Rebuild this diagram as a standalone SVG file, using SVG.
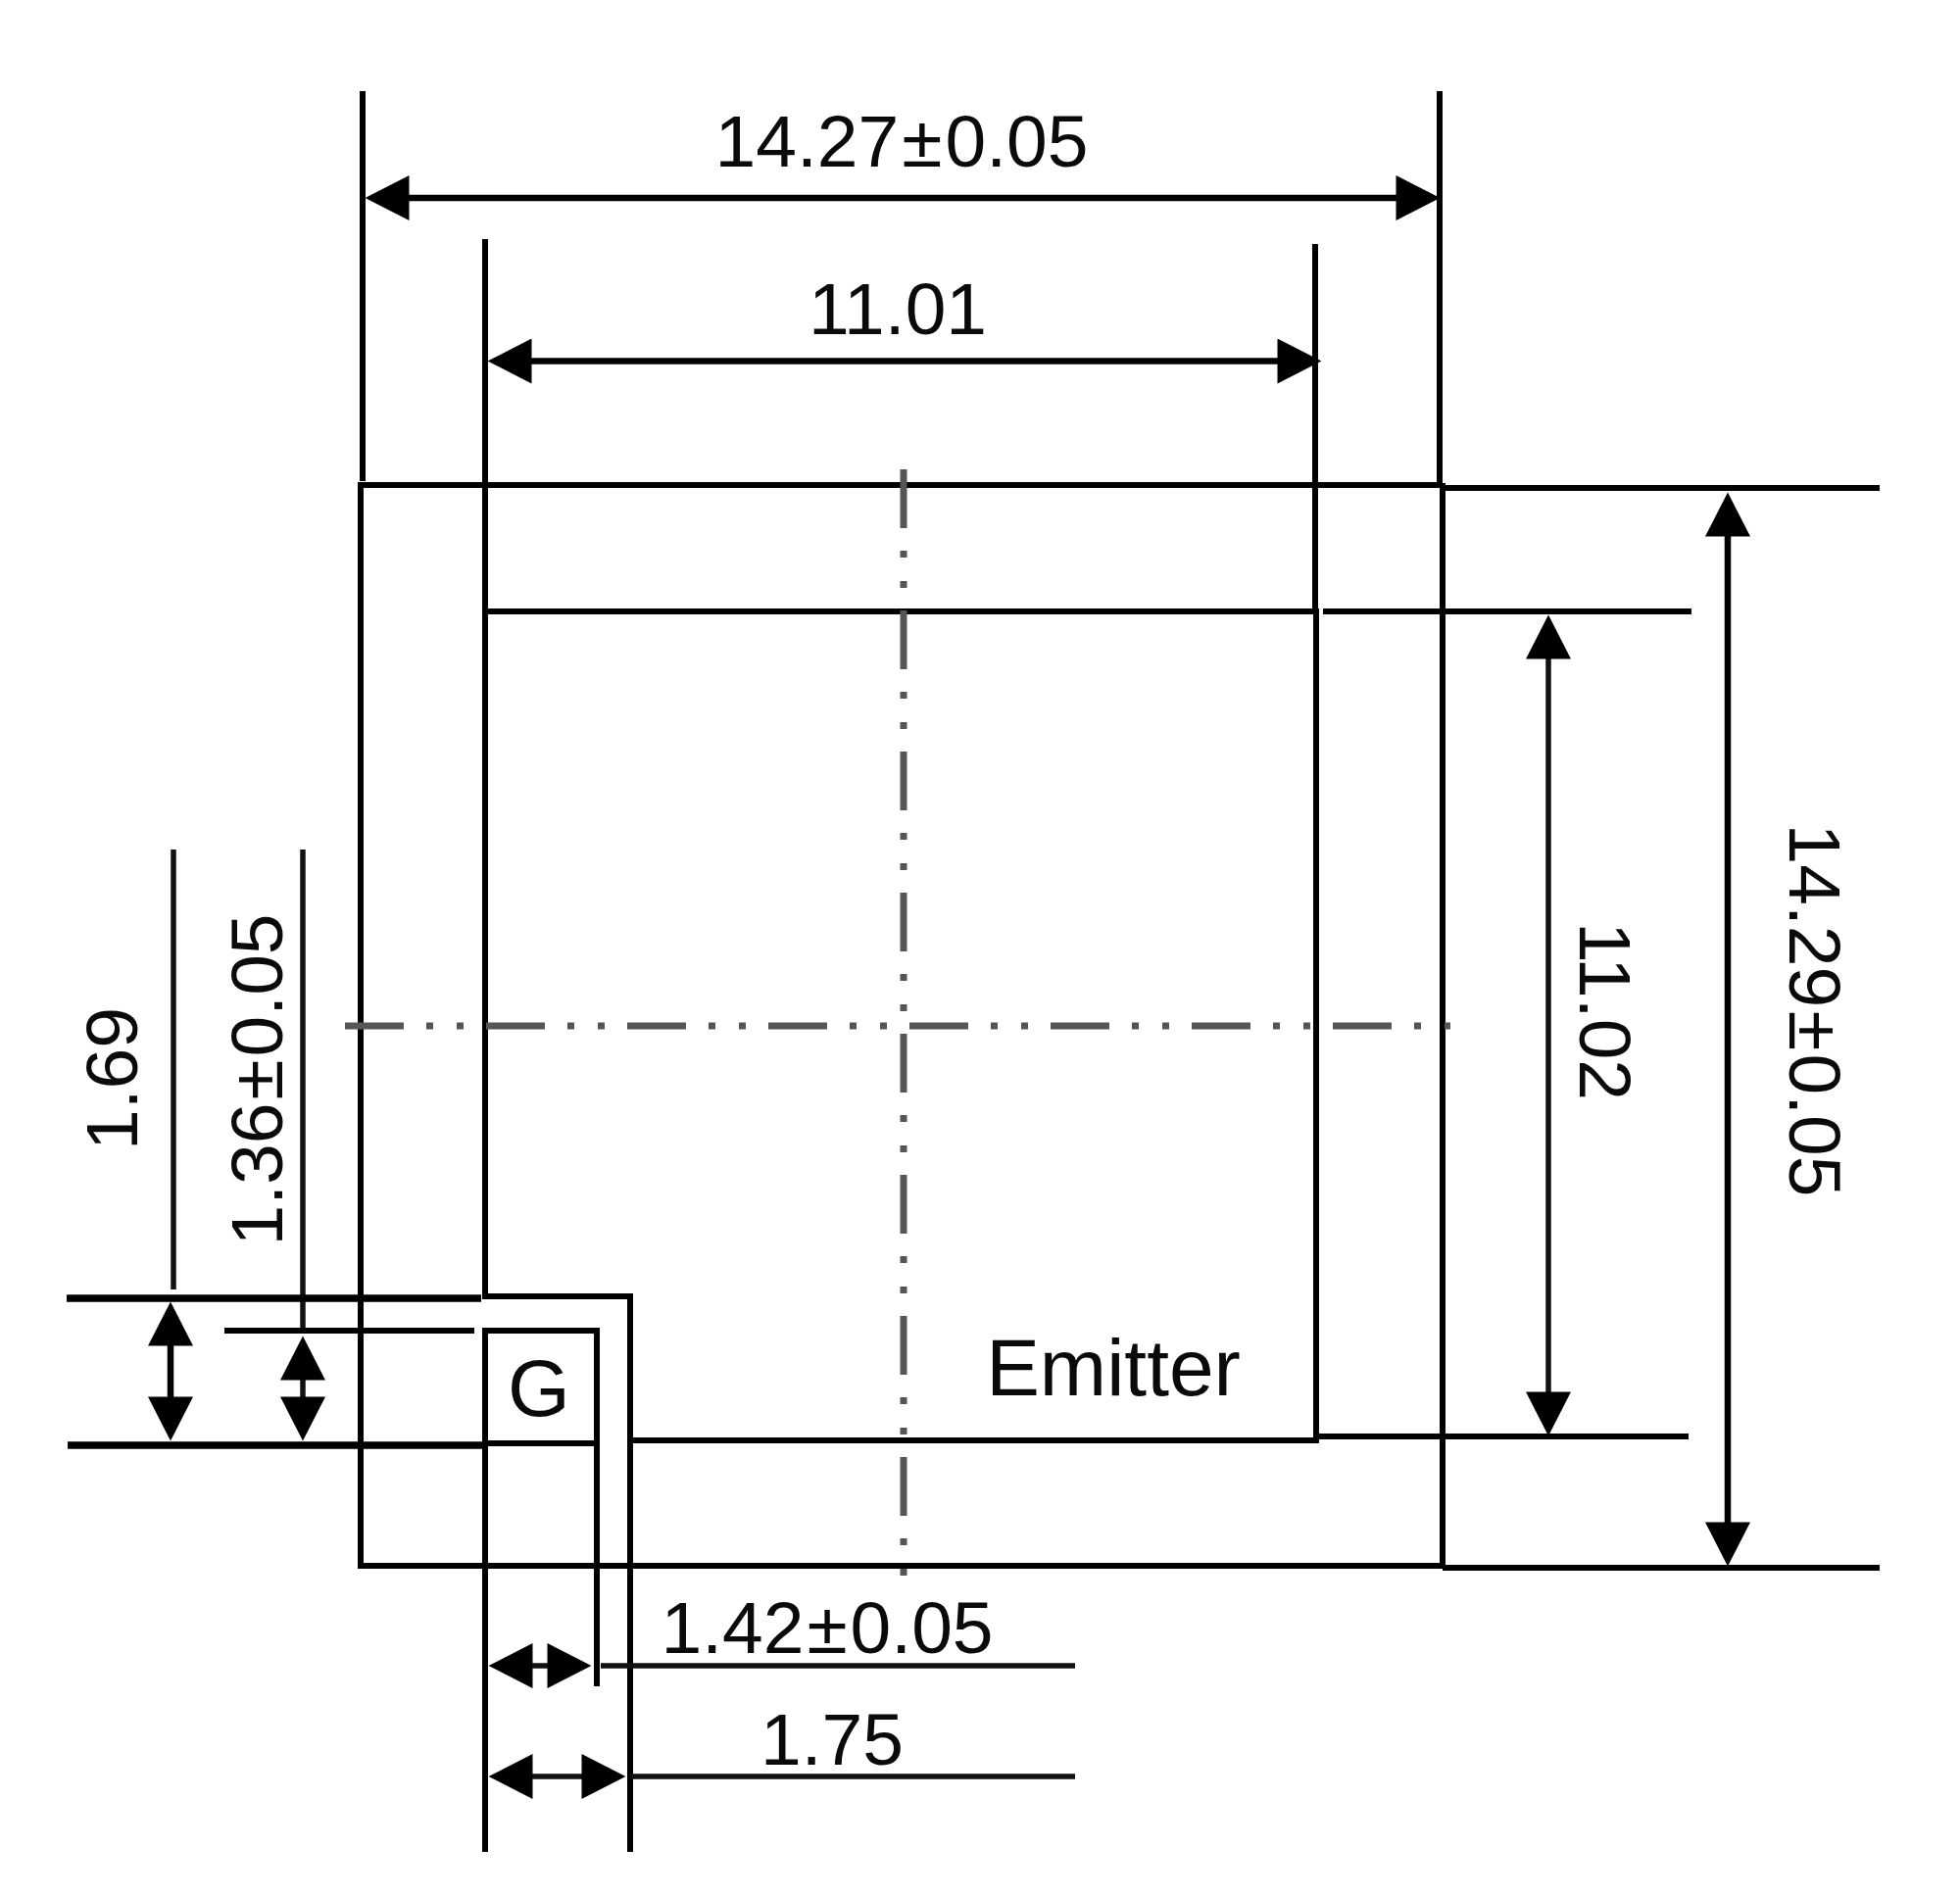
<svg xmlns="http://www.w3.org/2000/svg" width="2000" height="1935" viewBox="0 0 2000 1935">
<style>
.a{stroke:#000;stroke-width:6;fill:none}
.t{stroke:#000;stroke-width:7.500;fill:none}
.b{stroke:#000;stroke-width:6.500;fill:none;marker-start:url(#h);marker-end:url(#h)}
.n{stroke:#111;stroke-width:5.500;fill:none;marker-start:url(#h);marker-end:url(#h)}
.e{stroke:#111;stroke-width:5.500;fill:none}
.c{stroke:#555;stroke-width:7;fill:none;stroke-dasharray:60 23 7 24 7 23}
text{font-family:"Liberation Sans",Arial,sans-serif;font-size:75px;fill:#0a0a0a;text-anchor:middle}
.l{font-size:82px}
</style>
<defs>
<marker id="h" markerUnits="userSpaceOnUse" markerWidth="46" markerHeight="46" viewBox="0 0 43 44" refX="33" refY="22" orient="auto-start-reverse"><path d="M0 0L43 22L0 44Z" fill="#000"/></marker>
</defs>
<rect width="2000" height="1935" fill="#fff"/>
<g id="package-outline"><path class="a" d="M365 495H1472M368 495V1598H1472"/><path class="a" d="M1472 493V1600"/></g>
<g id="emitter-pad"><path class="a" d="M495 491V1323H643V1470H1343V624H495"/></g>
<g id="gate-pad"><path class="a" d="M495 1358H609V1473H495Z"/></g>
<g id="connectors">
<path class="a" d="M370 93V491M495 244V495M1342 249V624M1469 93V493"/>
<path class="a" d="M1472 498H1918M1350 624H1726M1346 1466H1723M1472 1600H1918"/>
<path class="e" d="M177 867V1316M309 867V1358"/>
<path class="t" d="M68 1325H491M69 1475H495"/>
<path class="a" d="M229 1358H484"/>
<path class="a" d="M495 1473V1890M609 1473V1721M643 1470V1890"/>
<path class="e" d="M613 1700H1097M643 1813H1097"/>
<path class="b" d="M383 202H1459"/>
<path class="b" d="M508 368.500H1338"/>
<path class="b" d="M1763 513V1588"/>
<path class="n" d="M1580 638V1455"/>
<path class="b" d="M174 1339V1460"/>
<path class="n" d="M309 1374V1460"/>
<path class="n" d="M509 1700H593"/>
<path class="n" d="M509 1813H628"/>
</g>
<g id="center-lines">
<path class="c" d="M922 479V1609"/>
<path class="c" d="M352 1047H1480"/>
</g>
<g id="labels">
<text x="920" y="170">14.27<tspan dx="3">±</tspan><tspan dx="3">0.05</tspan></text>
<text x="916" y="341">11.01</text>
<text x="844" y="1687">1.42<tspan dx="3">±</tspan><tspan dx="3">0.05</tspan></text>
<text x="849" y="1801">1.75</text>
<text class="l" x="550" y="1445">G</text>
<text class="l" x="1136" y="1424">Emitter</text>
<text transform="translate(1826 1031) rotate(90)">14.29<tspan dx="3">±</tspan><tspan dx="3">0.05</tspan></text>
<text transform="translate(1612 1032) rotate(90)">11.02</text>
<text transform="translate(140 1101) rotate(-90)">1.69</text>
<text transform="translate(288 1102) rotate(-90)">1.36<tspan dx="3">±</tspan><tspan dx="3">0.05</tspan></text>
</g>
</svg>
